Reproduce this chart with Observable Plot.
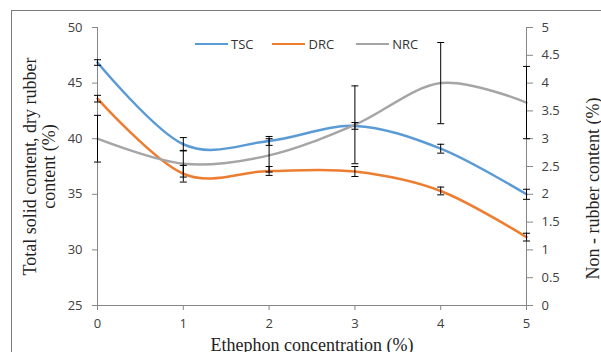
<!DOCTYPE html>
<html>
<head>
<meta charset="utf-8">
<script src="https://cdn.jsdelivr.net/npm/d3@7"></script>
<script src="https://cdn.jsdelivr.net/npm/@observablehq/plot@0.6"></script>
<style>
  html, body { margin: 0; padding: 0; background: #fff; }
  #wrap { position: relative; width: 601px; height: 352px; overflow: hidden; }
  #frame { position: absolute; left: 11px; top: 10px; width: 700px; height: 500px; border: 1.5px solid #7a7a7a; box-sizing: border-box; }
  #legend { position: absolute; top: 35px; left: 195px; font: 13px "Open Sans", sans-serif; color: #333; display: flex; }
  #legend .item { display: flex; align-items: center; margin-right: 0; }
  #legend .sw { display: inline-block; width: 33px; height: 0; border-top: 2.5px solid; margin-right: 3px; }
  #chart { position: absolute; left: 0; top: 0; }
</style>
</head>
<body>
<div id="wrap">
  <div id="frame"></div>
  <div id="chart"></div>
  <div id="legend"></div>
</div>
<script>
// Data
const concentration = [0, 1, 2, 3, 4, 5];
const tsc = [46.85, 39.5, 39.8, 41.15, 39.1, 35.0];
const tscErr = [0.25, 0.6, 0.4, 0.3, 0.4, 0.45];
const drc = [43.6, 36.85, 37.1, 37.05, 35.3, 31.15];
const drcErr = [0.3, 0.75, 0.4, 0.45, 0.35, 0.35];
const nrc = [3.0, 2.55, 2.7, 3.25, 4.0, 3.65];
const nrcErr = [0.42, 0.24, 0.3, 0.7, 0.73, 0.65];

const seriesNames = ["TSC", "DRC", "NRC"];
const seriesColors = ["#5B9BD5", "#ED7D31", "#A5A5A5"];
const xTicks = [0, 1, 2, 3, 4, 5];
const leftTicks = [25, 30, 35, 40, 45, 50];
const rightTicks = [0, 0.5, 1, 1.5, 2, 2.5, 3, 3.5, 4, 4.5, 5];

const xTitle = "Ethephon concentration (%)";
const yLeftTitle = "Total solid content, dry rubber\ncontent (%)";
const yRightTitle = "Non - rubber content (%)";

// right axis (0..5) mapped onto left axis (25..50)
const toLeft = v => 25 + v * 5;
const fromLeft = v => (v - 25) / 5;

const rows = [];
concentration.forEach((c, i) => {
  rows.push({series: "TSC", x: c, y: tsc[i], e: tscErr[i]});
  rows.push({series: "DRC", x: c, y: drc[i], e: drcErr[i]});
  rows.push({series: "NRC", x: c, y: toLeft(nrc[i]), e: nrcErr[i] * 5});
});

const capSymbol = {
  draw(ctx) { ctx.moveTo(-3.5, 0); ctx.lineTo(3.5, 0); }
};

const axisGray = "#868686";
const labelColor = "#404040";
const serif = "'Liberation Serif', 'Times New Roman', serif";

const chart = Plot.plot({
  width: 601,
  height: 352,
  marginLeft: 97,
  marginRight: 75,
  marginTop: 27,
  marginBottom: 47,
  style: {fontFamily: "'Open Sans', sans-serif", fontSize: "13px", background: "transparent", color: labelColor},
  x: {domain: [0, 5]},
  y: {domain: [25, 50]},
  color: {domain: seriesNames, range: seriesColors},
  marks: [
    Plot.ruleX([0, 5], {stroke: axisGray, strokeWidth: 1}),
    Plot.ruleY([25], {stroke: axisGray, strokeWidth: 1}),
    Plot.axisX({ticks: xTicks, tickFormat: d => String(d), tickSize: 5, tickPadding: 8, stroke: axisGray, fill: labelColor, label: null, fontSize: 13}),
    Plot.axisY({anchor: "left", ticks: leftTicks, tickFormat: d => String(d), tickSize: 5, tickPadding: 10, stroke: axisGray, fill: labelColor, label: null, fontSize: 13}),
    Plot.axisY({anchor: "right", ticks: rightTicks.map(toLeft), tickFormat: d => String(fromLeft(d)), tickSize: 6, tickPadding: 9, stroke: axisGray, fill: labelColor, label: null, fontSize: 13}),
    Plot.line(rows, {x: "x", y: "y", z: "series", stroke: "series", strokeWidth: 2.5, curve: "cardinal"}),
    Plot.ruleX(rows, {x: "x", y1: d => d.y - d.e, y2: d => d.y + d.e, stroke: "#000", strokeWidth: 1}),
    Plot.dot(rows, {x: "x", y: d => d.y - d.e, symbol: capSymbol, stroke: "#000", strokeWidth: 1, fill: "none"}),
    Plot.dot(rows, {x: "x", y: d => d.y + d.e, symbol: capSymbol, stroke: "#000", strokeWidth: 1, fill: "none"}),
    Plot.text([xTitle], {text: d => d, frameAnchor: "bottom", textAnchor: "middle", lineAnchor: "middle", dy: 40, fontFamily: serif, fontSize: 18, fill: "#222"}),
    Plot.text([yLeftTitle], {text: d => d, frameAnchor: "left", textAnchor: "middle", lineAnchor: "middle", rotate: -90, dx: -58, dy: 0, lineHeight: 1.08, fontFamily: serif, fontSize: 18, fill: "#222"}),
    Plot.text([yRightTitle], {text: d => d, frameAnchor: "right", textAnchor: "middle", lineAnchor: "middle", rotate: -90, dx: 67, dy: 22, fontFamily: serif, fontSize: 18, fill: "#222"})
  ]
});
document.getElementById("chart").appendChild(chart);

// legend
const legend = document.getElementById("legend");
const gaps = [19, 22, 0];
seriesNames.forEach((name, i) => {
  const item = document.createElement("div");
  item.className = "item";
  item.style.marginRight = gaps[i] + "px";
  const sw = document.createElement("span");
  sw.className = "sw";
  sw.style.borderColor = seriesColors[i];
  const t = document.createElement("span");
  t.textContent = name;
  item.appendChild(sw);
  item.appendChild(t);
  legend.appendChild(item);
});
</script>
</body>
</html>
